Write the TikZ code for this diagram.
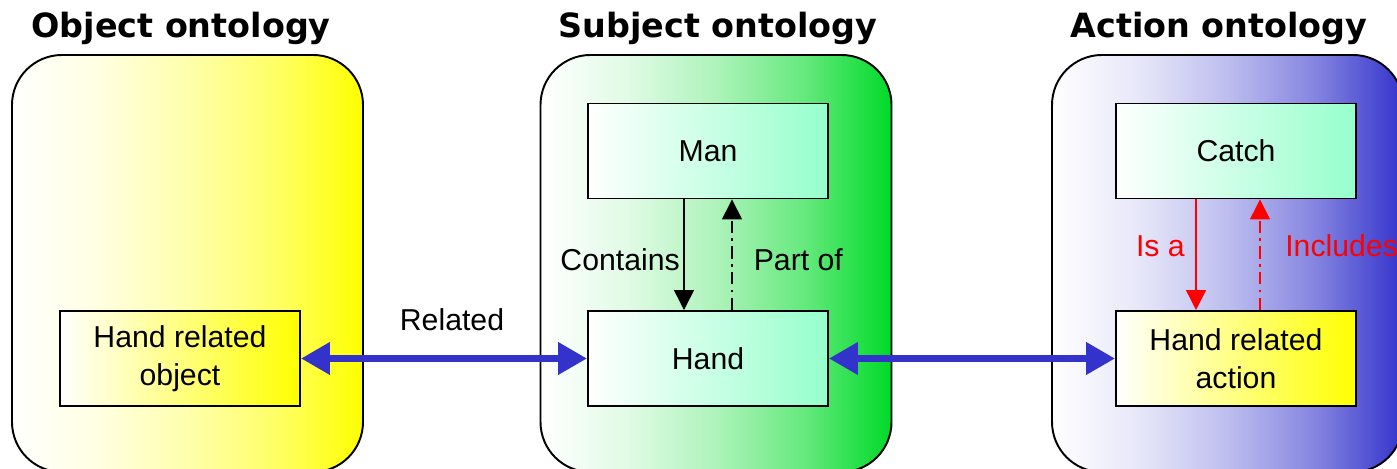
\documentclass[tikz,border=0pt]{standalone}
\usepackage{fontspec}
\setmainfont{Liberation Sans}
\newfontfamily\headfont{DejaVu Sans}
\usepackage{xcolor}
\usetikzlibrary{arrows.meta}

\definecolor{paneyellow}{RGB}{255,255,0}
\definecolor{panegreen}{RGB}{0,218,40}
\definecolor{paneblue}{RGB}{51,51,204}
\definecolor{mint}{RGB}{150,255,204}
\definecolor{linkblue}{RGB}{51,51,204}

% slow start from white, then up to the full colour on the right
% (the node is fitted into 25bp..75bp of the shading)
\pgfdeclarehorizontalshading{yellowpane}{100bp}{color(0bp)=(white); color(25bp)=(white); color(37.5bp)=(paneyellow!12); color(50bp)=(paneyellow!32); color(62.5bp)=(paneyellow!60); color(75bp)=(paneyellow); color(100bp)=(paneyellow)}
\pgfdeclarehorizontalshading{greenpane}{100bp}{color(0bp)=(white); color(25bp)=(white); color(37.5bp)=(panegreen!12); color(50bp)=(panegreen!32); color(62.5bp)=(panegreen!60); color(75bp)=(panegreen); color(100bp)=(panegreen)}
\pgfdeclarehorizontalshading{bluepane}{100bp}{color(0bp)=(white); color(25bp)=(white); color(37.5bp)=(paneblue!12); color(50bp)=(paneblue!32); color(62.5bp)=(paneblue!60); color(75bp)=(paneblue); color(100bp)=(paneblue)}

\begin{document}
\begin{tikzpicture}[
    pane/.style={draw, line width=0.55pt, rounded corners=0.5cm, minimum width=3.51cm, minimum height=4.17cm, shade, shading angle=0},
    head/.style={font=\headfont\bfseries\fontsize{9.5}{11}\selectfont, anchor=base},
    box/.style={draw, line width=0.55pt, minimum width=2.4cm, minimum height=0.95cm, align=center, shade, left color=white,
        font=\fontsize{8.6}{10.8}\selectfont},
    arr/.style={-{Triangle[length=2mm, width=2mm]}, line width=0.4pt},
    link/.style={{Triangle[length=2.9mm, width=3.1mm]}-{Triangle[length=2.9mm, width=3.1mm]}, line width=2pt, linkblue},
    dashdot/.style={dash pattern=on 3.5pt off 1.5pt on 0.8pt off 1.5pt},
    lbl/.style={font=\fontsize{8.6}{10.8}\selectfont, inner sep=1pt},
]

\useasboundingbox[fill=white] (0,0) rectangle (13.97,-4.69);

% The three ontologies
\node[pane, shading=yellowpane] (objpane) at (1.875,-2.635) {};
\node[pane, shading=greenpane] (subjpane) at (7.16,-2.635) {};
\node[pane, shading=bluepane] (actpane) at (12.275,-2.635) {};

\node[head] (objhead) at (1.81,-0.375) {Object ontology};
\node[head] (subjhead) at (7.18,-0.375) {Subject ontology};
\node[head] (acthead) at (12.19,-0.375) {Action ontology};

% Concepts
\node[box, right color=paneyellow] (hrobject) at (1.80,-3.585) {Hand related\\object};
\node[box, right color=mint] (man) at (7.08,-1.51) {Man};
\node[box, right color=mint] (hand) at (7.08,-3.585) {Hand};
\node[box, right color=mint] (catch) at (12.36,-1.51) {Catch};
\node[box, right color=paneyellow] (hraction) at (12.36,-3.585) {Hand related\\action};

% Relations inside the subject ontology
\draw[arr] ([xshift=-2.4mm]man.south) -- node[lbl, left, yshift=-0.5mm] {Contains} ([xshift=-2.4mm]hand.north);
\draw[arr, dashdot] ([xshift=2.4mm]hand.north) -- node[lbl, right=5pt, yshift=-0.5mm] {Part of} ([xshift=2.4mm]man.south);

% Relations inside the action ontology
\draw[arr, red] ([xshift=-4mm]catch.south) -- node[lbl, left=2pt, pos=0.42, text=red] {Is a} ([xshift=-4mm]hraction.north);
\draw[arr, red, dashdot] ([xshift=2.4mm]hraction.north) -- node[lbl, right=6pt, pos=0.58, text=red] {Includes} ([xshift=2.4mm]catch.south);

% Links between ontologies
\draw[link] (hrobject.east) -- node[lbl, above=6pt, xshift=0.8mm, text=black] {Related} (hand.west);
\draw[link] (hand.east) -- (hraction.west);

\end{tikzpicture}
\end{document}
